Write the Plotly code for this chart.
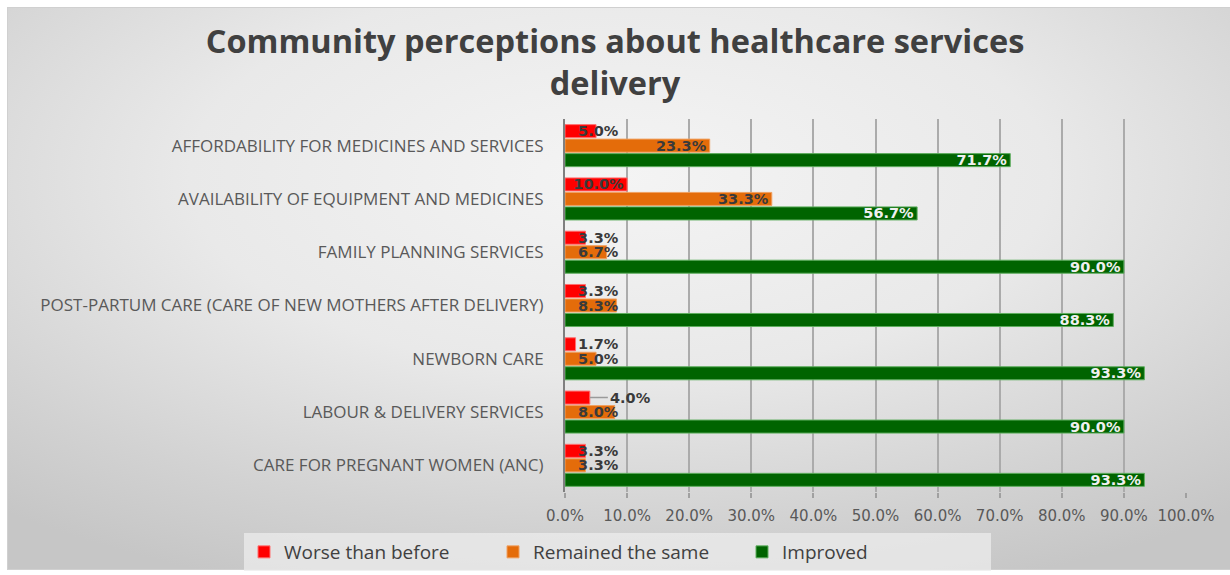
import base64
import plotly.graph_objects as go

# ---- data -------------------------------------------------------------
categories = [
    "AFFORDABILITY FOR MEDICINES AND SERVICES",
    "AVAILABILITY OF EQUIPMENT AND MEDICINES",
    "FAMILY PLANNING SERVICES",
    "POST-PARTUM CARE (CARE OF NEW MOTHERS AFTER DELIVERY)",
    "NEWBORN CARE",
    "LABOUR & DELIVERY SERVICES",
    "CARE FOR PREGNANT WOMEN (ANC)",
]
worse = [5.0, 10.0, 3.3, 3.3, 1.7, 4.0, 3.3]
same = [23.3, 33.3, 6.7, 8.3, 5.0, 8.0, 3.3]
improved = [71.7, 56.7, 90.0, 88.3, 93.3, 90.0, 93.3]
# the "worse" label that is pulled out of its bar with a leader line
worse_callout = [False, False, False, False, False, True, False]

series_names = ["Worse than before", "Remained the same", "Improved"]
tick_values = [0, 10, 20, 30, 40, 50, 60, 70, 80, 90, 100]
tick_labels = ["0.0%", "10.0%", "20.0%", "30.0%", "40.0%", "50.0%",
               "60.0%", "70.0%", "80.0%", "90.0%", "100.0%"]

# ---- layout geometry --------------------------------------------------
W, H = 1230, 575
ML, MR, MT, MB = 565, 44, 119, 83
PW, PH = W - ML - MR, H - MT - MB


def to_paper(px, py):
    return (px - ML) / PW, (H - MB - py) / PH


# soft radial grey backdrop panel, as an inline SVG gradient
P_X0, P_X1, P_Y0, P_Y1 = 7, 1232, 7, 570
svg = (
    '<svg xmlns="http://www.w3.org/2000/svg" width="1225" height="563" '
    'viewBox="0 0 1225 563" preserveAspectRatio="none">'
    '<defs><radialGradient id="g" cx="0.5" cy="0.3" r="0.78" '
    'gradientUnits="objectBoundingBox">'
    '<stop offset="0" stop-color="#f4f4f4"/>'
    '<stop offset="0.45" stop-color="#e9e9e9"/>'
    '<stop offset="0.8" stop-color="#d2d2d2"/>'
    '<stop offset="1" stop-color="#c6c6c6"/>'
    '</radialGradient></defs>'
    '<rect x="0" y="0" width="1225" height="563" fill="url(#g)"/>'
    '<rect x="0.5" y="0.5" width="1224" height="562" fill="none" '
    'stroke="#d0d0d0" stroke-width="1"/>'
    '</svg>'
)
bg_src = "data:image/svg+xml;base64," + base64.b64encode(svg.encode()).decode()
bx0, by0 = to_paper(P_X0, P_Y0)
bx1, by1 = to_paper(P_X1, P_Y1)
images = [dict(
    source=bg_src, xref="paper", yref="paper", layer="below",
    x=bx0, y=by0, sizex=bx1 - bx0, sizey=by0 - by1,
    xanchor="left", yanchor="top", sizing="stretch",
)]

# ---- traces -----------------------------------------------------------
LABEL_FONT = "DejaVu Sans"
dark_label = dict(family=LABEL_FONT, size=14.5, color="#3a3a3a", weight="bold")
light_label = dict(family=LABEL_FONT, size=14.5, color="#f0f0f0", weight="bold")

specs = [
    (series_names[0], worse, "#ff0000", "#ff7070", dark_label, "worse"),
    (series_names[1], same, "#e46c0a", "#f0a060", dark_label, "same"),
    (series_names[2], improved, "#006400", "#5fae5f", light_label, "improved"),
]

fig = go.Figure()
for name, vals, color, edge, tfont, grp in specs:
    callout = worse_callout if grp == "worse" else [False] * len(vals)
    fits = [v >= 10 for v in vals]
    # bars, with labels anchored at the inner end when they fit
    fig.add_trace(go.Bar(
        y=categories, x=vals, orientation="h", name=name,
        offsetgroup=grp,
        marker=dict(color=color, line=dict(color=edge, width=1)),
        texttemplate="%{x:.1f}%",
        textposition=["inside" if f else "none" for f in fits],
        insidetextanchor="end", textangle=0, constraintext="none",
        insidetextfont=tfont, cliponaxis=False,
        hovertemplate="%{y}: %{x:.1f}%<extra>" + name + "</extra>",
    ))
    # labels of short bars start at the axis and run past the bar end
    fig.add_trace(go.Bar(
        y=categories, x=vals, orientation="h", name=name,
        offsetgroup=grp, showlegend=False, hoverinfo="skip",
        marker=dict(color="rgba(0,0,0,0)", line=dict(width=0)),
        texttemplate="\u2007%{x:.1f}%",
        textposition=["inside" if (not f and not c) else "none"
                      for f, c in zip(fits, callout)],
        insidetextanchor="start", textangle=0, constraintext="none",
        insidetextfont=dark_label, cliponaxis=False,
    ))

# leader-line label for the pulled-out value
annotations = []
for cat, v, c in zip(categories, worse, worse_callout):
    if c:
        annotations.append(dict(
            x=v, y=cat, xref="x", yref="y", yshift=14.5,
            text=f"{v:.1f}%", showarrow=True, arrowhead=0,
            arrowcolor="#9a9a9a", arrowwidth=1.5, ax=18, ay=0,
            xanchor="left", standoff=0,
            font=dark_label,
        ))

fig.update_layout(
    width=W, height=H,
    margin=dict(l=ML, r=MR, t=MT, b=MB, autoexpand=False),
    paper_bgcolor="white", plot_bgcolor="rgba(0,0,0,0)",
    font=dict(family="Open Sans", color="#595959"),
    title=dict(
        text="Community perceptions about healthcare services<br>delivery",
        x=0.5, xref="container", xanchor="center",
        y=1 - 53 / H, yref="container", yanchor="top",
        font=dict(family="Open Sans", size=32.5, color="#404040", weight="bold"),
    ),
    barmode="group", bargap=0.184, bargroupgap=0.1,
    showlegend=True,
    legend=dict(
        orientation="h", traceorder="normal",
        xref="paper", yref="paper",
        x=(244 - ML) / PW, xanchor="left",
        y=-(533 - (H - MB)) / PH, yanchor="top",
        bgcolor="rgba(236,236,236,0.75)",
        font=dict(family="Open Sans", size=19, color="#404040"),
        entrywidth=204, entrywidthmode="pixels",
    ),
    xaxis=dict(
        range=[0, 100], tickvals=tick_values, ticktext=tick_labels,
        showgrid=True, gridcolor="#ababab", gridwidth=1.5,
        zeroline=False, showline=False,
        ticks="outside", ticklen=5, tickwidth=1.5, tickcolor="#a0a0a0",
        tickfont=dict(family=LABEL_FONT, size=15, color="#595959"),
        ticklabelstandoff=5,
    ),
    yaxis=dict(
        type="category", categoryorder="array", categoryarray=categories,
        autorange="reversed",
        showgrid=False, zeroline=False,
        showline=True, linecolor="#7f7f7f", linewidth=2,
        ticks="", ticklabelstandoff=16,
        tickfont=dict(family="Open Sans", size=17, color="#595959"),
    ),
    images=images,
    annotations=annotations,
)

fig.write_html("out.html")
